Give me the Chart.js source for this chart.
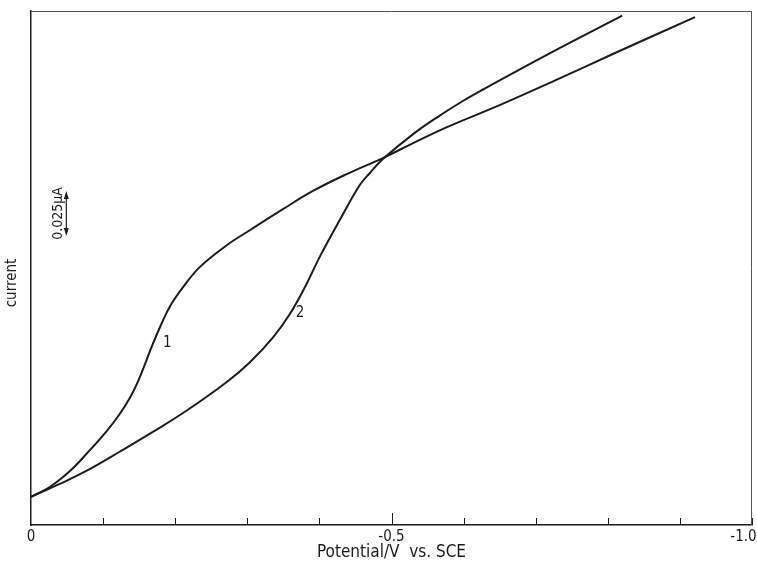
<!DOCTYPE html>
<html>
<head>
<meta charset="utf-8">
<script src="https://cdn.jsdelivr.net/npm/chart.js@4"></script>
<style>
    body { margin: 0; background: #fff; }
    #wrap { width: 757px; height: 568px; position: relative; }
</style>
</head>
<body>
<div id="wrap"><canvas id="myChart"></canvas></div>
<script>
// potential in V vs. SCE, current in nA (0.025 uA bar = 25 nA)
const potential1 = [0, -0.026, -0.054, -0.078, -0.105, -0.123, -0.137, -0.148, -0.169, -0.179, -0.193, -0.211, -0.234, -0.272, -0.304, -0.350, -0.391, -0.438, -0.488, -0.530, -0.577, -0.650, -0.734, -0.807, -0.921];
const current1 = [15.6, 21.1, 30.0, 40.0, 52.2, 61.7, 70.6, 79.4, 100.6, 110.0, 121.7, 132.2, 143.3, 155.6, 163.9, 175.6, 185.6, 195.0, 203.9, 212.2, 221.1, 233.3, 248.3, 261.7, 282.2];

const potential2 = [0, -0.040, -0.078, -0.123, -0.169, -0.216, -0.272, -0.304, -0.336, -0.359, -0.380, -0.401, -0.429, -0.456, -0.470, -0.488, -0.530, -0.567, -0.599, -0.623, -0.720, -0.820];
const current2 = [15.6, 22.8, 30.3, 40.7, 51.7, 63.6, 79.6, 90.6, 104.4, 117.2, 132.2, 149.4, 170.0, 188.9, 195.6, 203.3, 217.2, 227.5, 235.6, 241.1, 262.2, 283.0];

const labelledTicks = [0, -0.5, -1.0];
const tickLabels = ['0', '-0.5', '-1.0    '];

const curveNames = ['1', '2'];
const curveNamePos = [[-0.189, 101], [-0.373, 117.8]];

const scaleBarValue = 25;          // nA
const scaleBarText = '0.025\u03bcA';
const scaleBarPos = [-0.049, 160.6];

const fontFamily = "'Liberation Sans Narrow', 'DejaVu Sans Condensed', 'Liberation Sans', sans-serif";
const ink = '#1c1c1c';

const toPoints = (xs, ys) => xs.map((x, i) => ({ x: x, y: ys[i] }));

const framePlugin = {
    id: 'frameAndNotes',
    afterDraw: (chart) => {
        const { ctx, chartArea } = chart;
        const xs = chart.scales.x;
        const ys = chart.scales.y;
        ctx.save();

        // top and right edges of the box
        ctx.strokeStyle = '#555';
        ctx.lineWidth = 1;
        ctx.beginPath();
        ctx.moveTo(chartArea.left, chartArea.top + 0.5);
        ctx.lineTo(chartArea.right - 0.5, chartArea.top + 0.5);
        ctx.lineTo(chartArea.right - 0.5, chartArea.bottom);
        ctx.stroke();

        // inward tick marks every 0.1 V
        ctx.strokeStyle = ink;
        ctx.lineWidth = 1;
        for (let k = 1; k <= 10; k++) {
            const px = Math.round(xs.getPixelForValue(-k / 10)) + 0.5;
            const len = k === 5 ? 12 : 7;
            ctx.beginPath();
            ctx.moveTo(px, chartArea.bottom);
            ctx.lineTo(px, chartArea.bottom - len);
            ctx.stroke();
        }

        // curve numbers
        ctx.fillStyle = ink;
        ctx.font = '15px ' + fontFamily;
        ctx.textAlign = 'center';
        ctx.textBaseline = 'middle';
        curveNames.forEach((name, i) => {
            ctx.fillText(name, xs.getPixelForValue(curveNamePos[i][0]), ys.getPixelForValue(curveNamePos[i][1]));
        });

        // y axis name
        ctx.save();
        ctx.translate(12, 283);
        ctx.rotate(-Math.PI / 2);
        ctx.font = '15px ' + fontFamily;
        ctx.fillText('current', 0, 0);
        ctx.restore();

        // 0.025 uA scale bar
        const bx = xs.getPixelForValue(scaleBarPos[0]);
        const y0 = ys.getPixelForValue(scaleBarPos[1]);
        const y1 = ys.getPixelForValue(scaleBarPos[1] + scaleBarValue);
        ctx.lineWidth = 1.2;
        ctx.beginPath();
        ctx.moveTo(bx, y0 - 4);
        ctx.lineTo(bx, y1 + 4);
        ctx.stroke();
        ctx.beginPath();
        ctx.moveTo(bx, y1);
        ctx.lineTo(bx - 2.5, y1 + 8);
        ctx.lineTo(bx + 2.5, y1 + 8);
        ctx.closePath();
        ctx.fill();
        ctx.beginPath();
        ctx.moveTo(bx, y0);
        ctx.lineTo(bx - 2.5, y0 - 8);
        ctx.lineTo(bx + 2.5, y0 - 8);
        ctx.closePath();
        ctx.fill();

        ctx.save();
        ctx.translate(bx - 8, (y0 + y1) / 2);
        ctx.rotate(-Math.PI / 2);
        ctx.font = '14px ' + fontFamily;
        ctx.fillText(scaleBarText, 0, 0);
        ctx.restore();

        ctx.restore();
    }
};

const ctx = document.getElementById('myChart');

const lineStyle = {
    showLine: true,
    borderColor: ink,
    borderWidth: 2,
    pointRadius: 0,
    tension: 0.4
};

new Chart(ctx, {
    type: 'scatter',
    data: {
        datasets: [
            Object.assign({ data: toPoints(potential1, current1) }, lineStyle),
            Object.assign({ data: toPoints(potential2, current2) }, lineStyle)
        ]
    },
    options: {
        responsive: true,
        maintainAspectRatio: false,
        animation: false,
        layout: {
            padding: { top: 11, right: 5, bottom: 0, left: 0 }
        },
        plugins: {
            legend: { display: false },
            tooltip: { enabled: false }
        },
        scales: {
            x: {
                type: 'linear',
                position: 'bottom',
                min: -1,
                max: 0,
                reverse: true,
                grid: { display: false, drawTicks: false },
                border: { display: true, color: ink, width: 1.5 },
                ticks: {
                    stepSize: 0.1,
                    autoSkip: false,
                    maxRotation: 0,
                    padding: 3,
                    color: ink,
                    font: { family: fontFamily, size: 15 },
                    callback: (value) => {
                        const i = labelledTicks.findIndex(t => Math.abs(t - value) < 1e-6);
                        return i < 0 ? '' : tickLabels[i];
                    }
                },
                title: {
                    display: true,
                    text: 'Potential/V  vs. SCE',
                    color: ink,
                    font: { family: fontFamily, size: 17 },
                    padding: { top: 0, bottom: 5 }
                },
                afterFit: (scale) => {
                    scale.height = 43;
                    scale.paddingLeft = 0;
                    scale.paddingRight = 0;
                }
            },
            y: {
                type: 'linear',
                min: 0,
                max: 285.6,
                grid: { display: false, drawTicks: false },
                border: { display: true, color: ink, width: 1.5 },
                ticks: { display: false },
                afterFit: (scale) => { scale.width = 31; }
            }
        }
    },
    plugins: [framePlugin]
});
</script>
</body>
</html>
